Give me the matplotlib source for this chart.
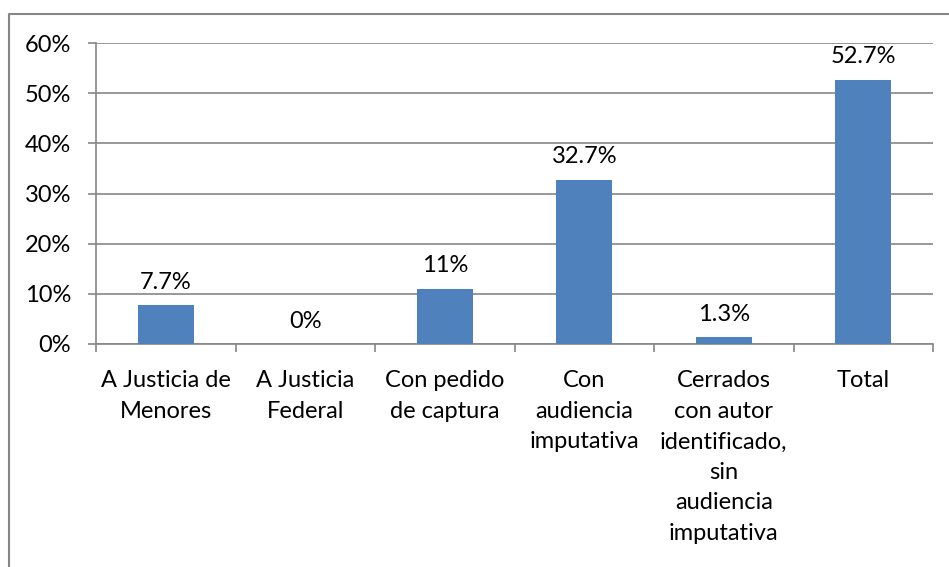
import numpy as np
import matplotlib
matplotlib.use("Agg")
import matplotlib.pyplot as plt
from matplotlib.lines import Line2D

# data
categories = ["A Justicia de\nMenores", "A Justicia\nFederal", "Con pedido\nde captura",
              "Con\naudiencia\nimputativa",
              "Cerrados\ncon autor\nidentificado,\nsin\naudiencia\nimputativa",
              "Total"]
values = [7.7, 0.0, 11.0, 32.7, 1.3, 52.7]
value_labels = ["7.7%", "0%", "11%", "32.7%", "1.3%", "52.7%"]
yticks = [0, 10, 20, 30, 40, 50, 60]

plt.rcParams['font.family'] = ['Lato', 'DejaVu Sans']
bar_color = '#4F81BD'
grey = '#868686'
fs = 17

fig = plt.figure(figsize=(9.49, 5.67), dpi=100, facecolor='w')
ax = fig.add_axes([96 / 949, 1 - 344 / 567, (933 - 96) / 949, (344 - 43) / 567])

x = np.arange(len(values))
bars = ax.bar(x, values, width=0.4, color=bar_color, zorder=3)

for xi, v, lab in zip(x, values, value_labels):
    ax.annotate(lab, (xi, v), xytext=(0, 9), textcoords='offset points',
                ha='center', va='bottom', fontsize=fs, color='black')

ax.set_xlim(-0.5, len(values) - 0.5)
ax.set_ylim(0, 60)
ax.set_yticks(yticks)
ax.set_yticklabels(["%d%%" % t for t in yticks], fontsize=fs)
ax.yaxis.grid(True, color=grey, linewidth=1.2, zorder=0)

# category boundaries as ticks, labels at centres
ax.set_xticks(np.arange(-0.5, len(values), 1.0))
ax.set_xticklabels([])
ax.set_xticks(x, minor=True)
ax.set_xticklabels(categories, minor=True, fontsize=fs, linespacing=1.56, va='top')
ax.tick_params(axis='x', which='major', length=6, width=1.2, color=grey)
ax.tick_params(axis='x', which='minor', length=0, pad=19)
ax.tick_params(axis='y', length=6, width=1.2, color=grey, pad=12)

for s in ['top', 'right']:
    ax.spines[s].set_visible(False)
for s in ['left', 'bottom']:
    ax.spines[s].set_color(grey)
    ax.spines[s].set_linewidth(1.2)

# outer chart border (left and top only visible)
bx = 8.5 / 949
by = 1 - 14 / 567
fig.add_artist(Line2D([bx, bx, 1], [0, by, by], transform=fig.transFigure,
                      color=grey, linewidth=1.5))

fig.savefig('out.png', dpi=100, facecolor='w')
